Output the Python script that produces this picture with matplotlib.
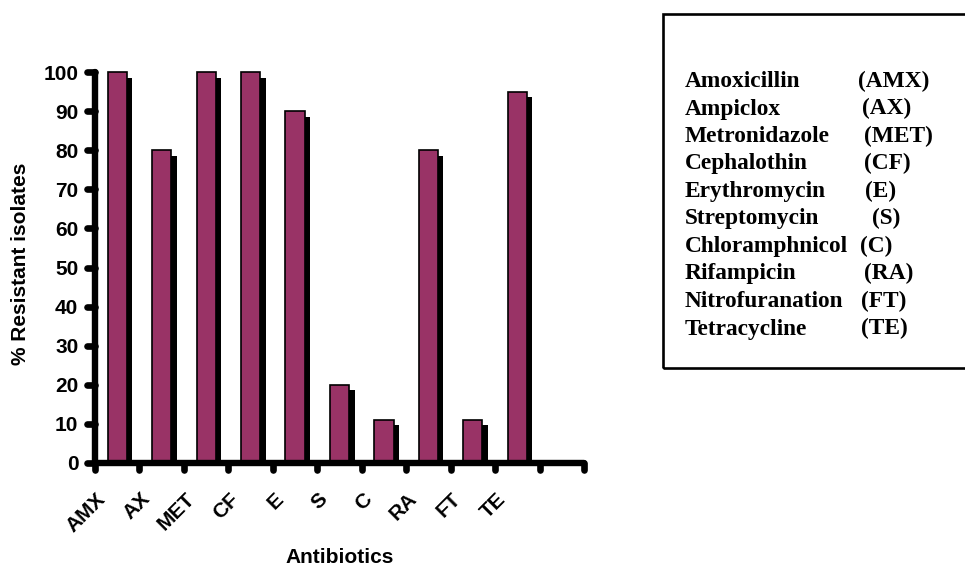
import matplotlib
matplotlib.use('Agg')
import matplotlib.pyplot as plt
from matplotlib.patches import Rectangle
from matplotlib.transforms import ScaledTranslation, offset_copy
import numpy as np

# ---- data ----
categories = ['AMX', 'AX', 'MET', 'CF', 'E', 'S', 'C', 'RA', 'FT', 'TE']
resistant = [100, 80, 100, 100, 90, 20, 11, 80, 11, 95]
yticks = [0, 10, 20, 30, 40, 50, 60, 70, 80, 90, 100]
drug_names = ['Amoxicillin', 'Ampiclox', 'Metronidazole', 'Cephalothin',
              'Erythromycin', 'Streptomycin', 'Chloramphnicol', 'Rifampicin',
              'Nitrofuranation', 'Tetracycline']
drug_abbrevs = ['(AMX)', '(AX)', '(MET)', '(CF)', '(E)', '(S)', '(C)',
                '(RA)', '(FT)', '(TE)']
n_slots = 11

# ---- layout (pixels) ----
W, H = 965, 566
abbrev_x_px = [858, 862, 864, 864, 865, 872, 860, 864, 861, 861]
SANS = 'Liberation Sans'
SERIF = 'Liberation Serif'
BAR_COLOR = '#993366'

fig = plt.figure(figsize=(W / 100, H / 100), dpi=100)
ax = fig.add_axes([95 / W, (H - 463) / H, 489 / W, 391 / H])
ax.set_xlim(0, n_slots)
ax.set_ylim(0, 100)

x = np.arange(len(categories)) + 0.285
bw = 0.43
shadow_tr = ax.transData + ScaledTranslation(5.5 / 100, -5.5 / 100, fig.dpi_scale_trans)
ax.bar(x, resistant, bw, align='edge', color='black', linewidth=0,
       transform=shadow_tr, zorder=1)
ax.bar(x, resistant, bw, align='edge', color=BAR_COLOR, edgecolor='black',
       linewidth=1.2, zorder=2, clip_on=False)

for s in ['top', 'right']:
    ax.spines[s].set_visible(False)
for s in ['left', 'bottom']:
    ax.spines[s].set_linewidth(4.6)
    ax.spines[s].set_capstyle('round')
    ax.spines[s].set_zorder(4)

ax.tick_params(axis='both', length=0)
ax.set_xticks([])
ax.set_yticks(yticks)
ax.set_yticklabels([str(v) for v in yticks], fontsize=15, fontweight='bold',
                   family=SANS)
ax.tick_params(axis='y', pad=12)

# round-capped tick stubs
for t in range(n_slots + 1):
    ax.plot([t, t], [0, -1.9], color='black', lw=4.8, solid_capstyle='round',
            clip_on=False, zorder=4)
for yv in yticks:
    ax.plot([0, -0.17], [yv, yv], color='black', lw=4.8, solid_capstyle='round',
            clip_on=False, zorder=4)

lab_tr = offset_copy(ax.transData, fig, x=0, y=-33, units='dots')
for i, c in enumerate(categories):
    ax.text(i + 0.17, 0, c, transform=lab_tr, rotation=45, ha='right',
            va='center', rotation_mode='anchor', fontsize=15,
            fontweight='bold', family=SANS)

fig.text(339.5 / W, 3 / H, 'Antibiotics', ha='center', va='baseline',
         fontsize=15, fontweight='bold', family=SANS)
fig.text(21 / W, 1 - 263.5 / H, '% Resistant isolates', ha='center',
         va='center', rotation=90, fontsize=15, fontweight='bold', family=SANS)

# legend box
fig.add_artist(Rectangle((663 / W, (H - 368) / H), 0.4, (368 - 14) / H,
                         transform=fig.transFigure, fill=False, lw=1.9,
                         edgecolor='black'))
for i, (nm, ab) in enumerate(zip(drug_names, drug_abbrevs)):
    yb = 1 - (87 + 27.5 * i) / H
    fig.text(685 / W, yb, nm, va='baseline', ha='left', fontsize=16.8,
             fontweight='bold', family=SERIF)
    fig.text(abbrev_x_px[i] / W, yb, ab, va='baseline', ha='left',
             fontsize=16.8, fontweight='bold', family=SERIF)

fig.savefig('out.png', dpi=100)
